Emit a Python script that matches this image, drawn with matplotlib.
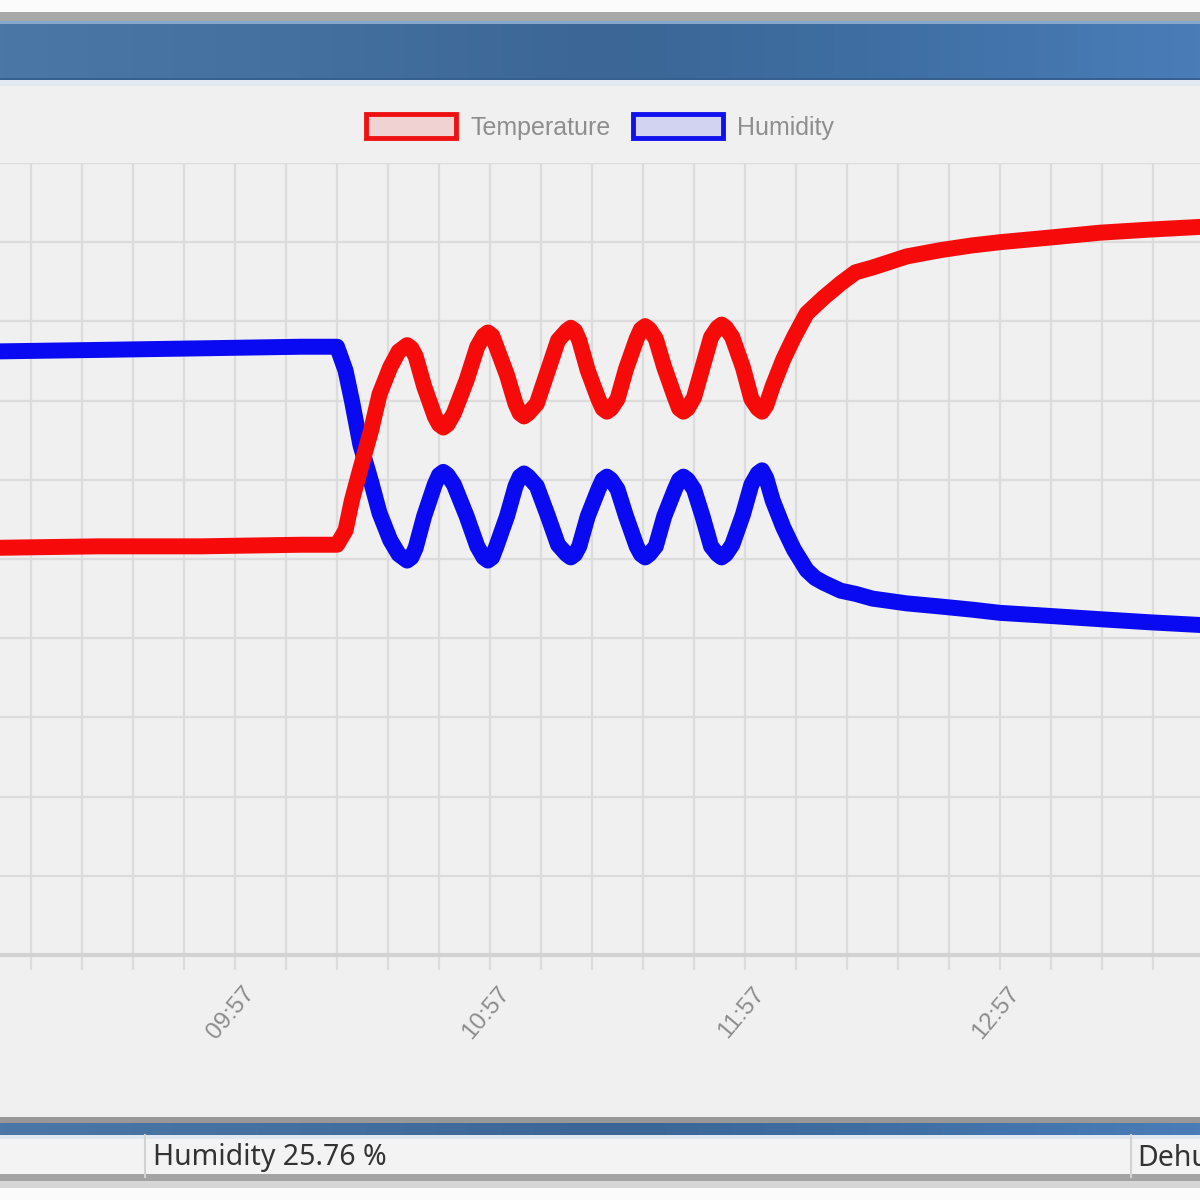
import numpy as np
import pandas as pd
import matplotlib
matplotlib.use("Agg")
import matplotlib.pyplot as plt
import matplotlib.dates as mdates
from matplotlib.patches import Rectangle, Patch
from matplotlib.colors import LinearSegmentedColormap
from matplotlib.transforms import ScaledTranslation

plt.rcParams['font.family'] = ['Liberation Sans', 'DejaVu Sans']

# data
day = "2024-01-01 "
times = ["08:59:30", "09:25:00", "09:49:00", "10:12:30", "10:21:00", "10:23:00", "10:24:30",
         "10:26:30", "10:29:00", "10:31:00", "10:33:30", "10:35:30",
         "10:37:30", "10:38:30", "10:39:30", "10:41:30", "10:44:00", "10:45:00",
         "10:46:00", "10:47:00", "10:48:30", "10:51:30", "10:54:00", "10:55:30",
         "10:56:30", "10:57:30", "10:58:30", "11:01:00", "11:03:00", "11:04:00",
         "11:05:00", "11:06:00", "11:08:00", "11:10:30", "11:13:00", "11:15:00",
         "11:16:00", "11:17:00", "11:18:00", "11:20:00", "11:22:30", "11:23:30",
         "11:24:30", "11:25:30", "11:27:00", "11:29:00", "11:31:30", "11:32:30",
         "11:33:30", "11:34:30", "11:36:00", "11:38:00", "11:40:30", "11:41:30",
         "11:42:30", "11:43:30", "11:45:00", "11:47:00", "11:49:00", "11:50:30",
         "11:51:30", "11:52:30", "11:54:00", "11:56:30", "11:58:30", "12:00:00",
         "12:01:00", "12:02:00", "12:03:30", "12:06:00", "12:08:30", "12:11:30",
         "12:13:30", "12:15:30", "12:19:30", "12:23:00", "12:27:00", "12:35:00",
         "12:43:00", "12:50:30", "12:57:00", "13:09:00", "13:20:30", "13:32:30",
         "13:46:30"]

temperature = [30.7, 30.8, 30.8, 30.9, 30.9, 31.8, 33.7, 35.7, 38.1, 40.4, 42.1, 43.1,
               43.5, 43.3, 42.8, 40.9, 39.0, 38.5,
               38.3, 38.5, 39.2, 41.3, 43.4, 44.1,
               44.3, 44.1, 43.4, 41.6, 39.8, 39.2,
               39.0, 39.2, 39.8, 41.8, 43.8, 44.4,
               44.6, 44.4, 43.8, 41.9, 40.1, 39.5,
               39.3, 39.5, 40.1, 42.0, 43.9, 44.5,
               44.7, 44.5, 43.9, 42.1, 40.2, 39.5,
               39.3, 39.5, 40.2, 42.1, 44.0, 44.6,
               44.8, 44.6, 44.0, 42.1, 40.1, 39.5,
               39.3, 39.7, 40.9, 42.6, 44.0, 45.5,
               46.0, 46.5, 47.4, 48.1, 48.4, 49.1,
               49.5, 49.8, 50.0, 50.3, 50.6, 50.8,
               51.0]

humidity = [43.1, 43.2, 43.3, 43.4, 43.4, 41.9, 40.0, 37.2, 34.9, 32.9, 31.2, 30.3,
            29.9, 30.1, 30.7, 32.7, 34.7, 35.3,
            35.5, 35.3, 34.7, 32.7, 30.8, 30.1,
            29.9, 30.1, 30.8, 32.7, 34.6, 35.2,
            35.4, 35.2, 34.6, 32.8, 30.9, 30.3,
            30.1, 30.3, 30.8, 32.7, 34.4, 35.0,
            35.2, 35.0, 34.4, 32.7, 30.8, 30.3,
            30.1, 30.3, 30.8, 32.7, 34.4, 35.0,
            35.2, 35.0, 34.4, 32.7, 30.8, 30.3,
            30.1, 30.3, 30.9, 32.8, 34.7, 35.4,
            35.6, 35.1, 33.7, 32.0, 30.6, 29.3,
            28.8, 28.5, 28.0, 27.8, 27.5, 27.2,
            27.0, 26.8, 26.6, 26.4, 26.2, 26.0,
            25.8]

labels = ["Temperature", "Humidity"]
status_left = "Humidity 25.76 %"
status_right = "Dehu"
view_start, view_end = "09:01:42", "13:44:03"
y_min, y_max, y_step = 5, 55, 5

t = pd.to_datetime([day + s for s in times])

fig = plt.figure(figsize=(12, 12), dpi=100, facecolor='#f0f0f0')

# window chrome, drawn in pixel coords (y down)
bg = fig.add_axes([0, 0, 1, 1], zorder=0)
bg.axis('off')


def band(y0, y1, color, x0=0, x1=1200):
    bg.add_patch(Rectangle((x0, y0), x1 - x0, y1 - y0, color=color, lw=0))


bar_cmap = LinearSegmentedColormap.from_list(
    'bar', ['#4b77a6', '#44709f', '#3b6695', '#3f6fa4', '#4a7db8'])
grad = np.linspace(0, 1, 256)[None, :]

band(0, 12, '#fbfbfb')
band(12, 21, '#a8a8a8')
bg.imshow(grad, cmap=bar_cmap, aspect='auto', extent=(0, 1200, 80, 21))
band(21, 24, '#86a7cc')
band(78, 80, '#35608f')
band(80, 86, '#e3e9f0')

band(1117, 1123, '#989898')
bg.imshow(grad, cmap=bar_cmap, aspect='auto', extent=(0, 1200, 1135, 1123))
band(1135, 1139, '#dfe7f0')
band(1139, 1174, '#f3f3f3')
band(1174, 1181, '#a3a3a3')
band(1181, 1188, '#d6d6d6')
band(1188, 1200, '#fbfbfb')
for xs in (145, 1131):
    bg.plot([xs, xs], [1135, 1177], color='#d2d2d2', lw=1.5)
bg.text(153, 1158, status_left, fontsize=20.5, color='#333333', va='center',
        family=['Noto Sans', 'DejaVu Sans'])
bg.text(1137, 1158, status_right, fontsize=20.5, color='#333333', va='center',
        family=['Noto Sans', 'DejaVu Sans'])
bg.set_xlim(0, 1200)
bg.set_ylim(1200, 0)

# chart
ax = fig.add_axes([0, 245 / 1200, 1, 792 / 1200], zorder=2)
ax.patch.set_alpha(0)
ax.plot(t, humidity, color='#0a0af2', lw=11.5, solid_joinstyle='round',
        solid_capstyle='round', zorder=3)
ax.plot(t, temperature, color='#f70a0a', lw=11.5, solid_joinstyle='round',
        solid_capstyle='round', zorder=4)

ax.set_xlim(pd.Timestamp(day + view_start), pd.Timestamp(day + view_end))
ax.set_ylim(y_min, y_max)
ax.set_yticks(np.arange(y_min, y_max + 1, y_step))
ax.tick_params(axis='y', left=False, labelleft=False)

ax.xaxis.set_major_locator(mdates.MinuteLocator(byminute=[57]))
ax.xaxis.set_minor_locator(mdates.MinuteLocator(byminute=[9, 21, 33, 45]))
ax.xaxis.set_major_formatter(mdates.DateFormatter('%H:%M'))
ax.grid(True, which='both', color='#dcdcdc', lw=1.6, zorder=1)
ax.tick_params(axis='x', which='both', length=11, width=1.6, color='#dcdcdc',
               labelsize=17.5, labelcolor='#8c8c8c', pad=14)
for s in ['left', 'right', 'top']:
    ax.spines[s].set_visible(False)
ax.spines['bottom'].set_color('#d2d2d2')
ax.spines['bottom'].set_linewidth(3)

shift = ScaledTranslation(11 / 72, 0, fig.dpi_scale_trans)
for lbl in ax.get_xticklabels():
    lbl.set_rotation(50)
    lbl.set_ha('right')
    lbl.set_va('center')
    lbl.set_rotation_mode('anchor')
    lbl.set_transform(lbl.get_transform() + shift)

handles = [Patch(facecolor=(1, 0, 0, 0.12), edgecolor='#ee1111', lw=3.5),
           Patch(facecolor=(0, 0, 1, 0.12), edgecolor='#1111ee', lw=3.5)]
fig.legend(handles, labels, loc='center', bbox_to_anchor=(0.5, 1 - 127 / 1200), ncol=2,
           frameon=False, fontsize=18, handlelength=3.6, handleheight=1.1,
           handletextpad=0.55, columnspacing=0.9, labelcolor='#8e8e8e', borderpad=0)

fig.savefig('out.png', dpi=100, facecolor=fig.get_facecolor())
